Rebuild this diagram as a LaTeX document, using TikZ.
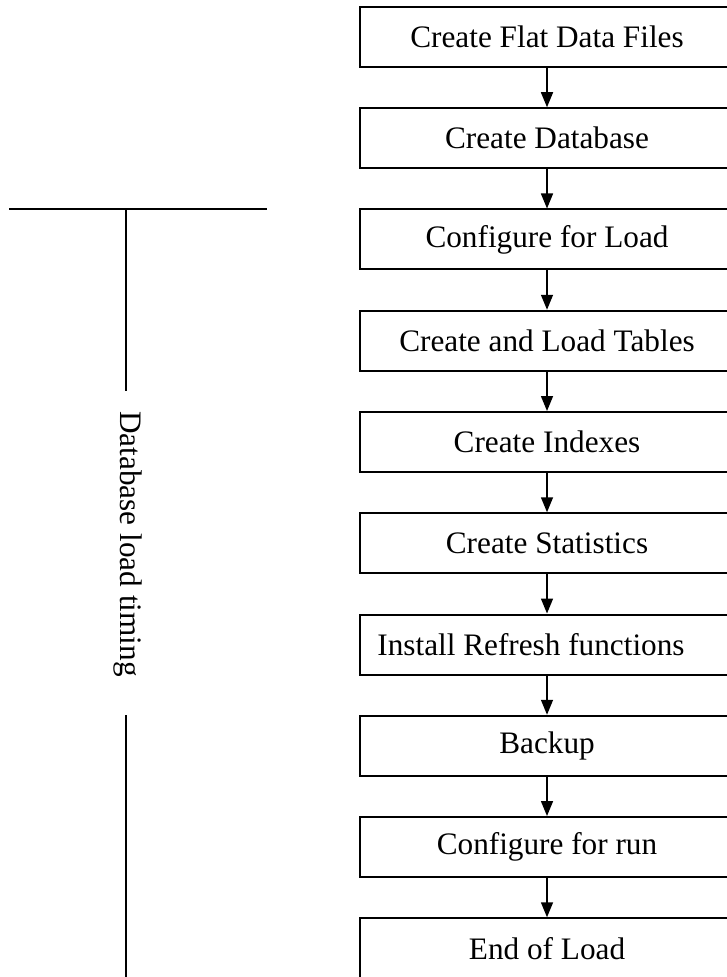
\documentclass[tikz,border=0pt]{standalone}
\usepackage{fontspec}
\setmainfont{Liberation Serif}
\usetikzlibrary{positioning,arrows.meta}

\begin{document}
\begin{tikzpicture}[x=0.4pt,y=-0.4pt,
    stage/.style={draw, line width=0.8pt, minimum width=149.6pt, minimum height=24pt,
                  inner sep=2pt, font=\fontsize{12.5}{14}\selectfont},
    flow/.style={-{Triangle[length=6pt,width=4.8pt]}, line width=0.6pt},
    node distance=15.7pt]
\useasboundingbox (0,0) rectangle (726,977);
%%   stages of the load
    \node[stage] (flat) at (547,37) {Create Flat Data Files};
    \node[stage, below=of flat] (db) {Create Database};
    \node[stage, below=of db] (cfgload) {Configure for Load};
    \node[stage, below=of cfgload] (tables) {Create and Load Tables};
    \node[stage, below=of tables] (indexes) {Create Indexes};
    \node[stage, below=of indexes] (stats) {Create Statistics};
    \node[stage, below=of stats] (refresh) {Install Refresh functions\kern12.8pt};
    \node[stage, below=of refresh] (backup) {Backup};
    \node[stage, below=of backup] (cfgrun) {Configure for run};
    \node[stage, below=of cfgrun] (end) {End of Load};
    \draw[flow] (flat) -- (db);
    \draw[flow] (db) -- (cfgload);
    \draw[flow] (cfgload) -- (tables);
    \draw[flow] (tables) -- (indexes);
    \draw[flow] (indexes) -- (stats);
    \draw[flow] (stats) -- (refresh);
    \draw[flow] (refresh) -- (backup);
    \draw[flow] (backup) -- (cfgrun);
    \draw[flow] (cfgrun) -- (end);
%%   timing bar
    \coordinate (barL) at (9,209);
    \coordinate (barR) at (267,209);
    \coordinate (barM) at (126,209);
    \coordinate (barT) at (126,715);
    \coordinate (barB) at (126,990);
    \node[rotate=-90, inner sep=8pt, font=\fontsize{12.5}{14}\selectfont] (timing) at (128,544) {Database load timing};
    \draw[line width=0.6pt] (barL) -- (barR);
    \draw[line width=0.6pt] (barM) -- (barM |- timing.west);
    \draw[line width=0.6pt] (barT) -- (barB);
\end{tikzpicture}
\end{document}
